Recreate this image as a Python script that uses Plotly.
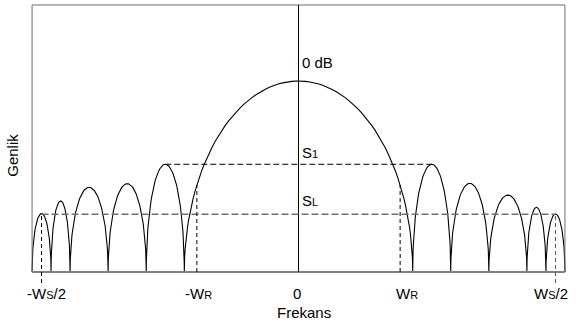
"""
Window spectrum sketch: main lobe, side lobes, S1 / SL levels
"""

import numpy as np
import plotly.graph_objects as go

# Lobe nulls on the frequency axis (main-lobe null = 1)
nulls = [-2.333, -2.167, -2.0, -1.667, -1.333, -1.0,
         1.0, 1.333, 1.667, 2.0, 2.167, 2.333]
# Peak amplitude of each lobe between two nulls (main lobe = 1)
peaks = [0.306, 0.372, 0.443, 0.462, 0.564, 1.0,
         0.564, 0.464, 0.403, 0.339, 0.304]

ws_half = 2.25      # Ws/2
wr = 0.89           # WR
s1_level = 0.564    # first side lobe level
sl_level = 0.302    # last side lobe level
top = 1.398

FONT = "Liberation Sans, Arial, sans-serif"
SUB = "<span style='font-size:11px'>{}</span>"


def lobe_curve(nulls, peaks, n=80):
    """half-ellipse arcs between consecutive nulls"""
    xs, ys = [], []
    t = np.linspace(0, np.pi, n)
    for a, b, h in zip(nulls[:-1], nulls[1:], peaks):
        c, r = (a + b) / 2, (b - a) / 2
        xs.extend(c - r * np.cos(t))
        ys.extend(h * np.sin(t))
    return xs, ys


def main_lobe_height(x):
    i = peaks.index(max(peaks))
    a, b = nulls[i], nulls[i + 1]
    c, r = (a + b) / 2, (b - a) / 2
    return peaks[i] * np.sqrt(1 - ((x - c) / r) ** 2)


xs, ys = lobe_curve(nulls, peaks)

fig = go.Figure()
fig.add_trace(go.Scatter(x=xs, y=ys, mode="lines",
                         line=dict(color="black", width=1.1),
                         hoverinfo="skip", showlegend=False))

ybot = -0.0576
s1_x = (nulls[4] + nulls[5]) / 2
shapes = [
    # frame
    dict(type="line", x0=nulls[0], x1=nulls[0], y0=0, y1=top,
         line=dict(color="#6e6e6e", width=1)),
    dict(type="line", x0=nulls[-1], x1=nulls[-1], y0=0, y1=top,
         line=dict(color="#6e6e6e", width=1)),
    dict(type="line", x0=nulls[0], x1=nulls[-1], y0=top, y1=top,
         line=dict(color="#6e6e6e", width=1)),
    dict(type="line", x0=nulls[0], x1=nulls[-1], y0=0, y1=0,
         line=dict(color="#808080", width=2)),
    # zero frequency line
    dict(type="line", x0=0, x1=0, y0=0, y1=top,
         line=dict(color="black", width=1)),
    # S1 and SL levels
    dict(type="line", x0=s1_x, x1=-s1_x, y0=s1_level, y1=s1_level,
         line=dict(color="black", width=1, dash="6px,3px")),
    dict(type="line", x0=-ws_half, x1=ws_half, y0=sl_level, y1=sl_level,
         line=dict(color="#707070", width=1.6, dash="7px,3px")),
    # Ws/2 and WR markers
    dict(type="line", x0=-ws_half, x1=-ws_half, y0=ybot, y1=sl_level,
         line=dict(color="black", width=1, dash="4px,3px")),
    dict(type="line", x0=ws_half, x1=ws_half, y0=ybot, y1=sl_level,
         line=dict(color="#555", width=1, dash="4px,3px")),
    dict(type="line", x0=-wr, x1=-wr, y0=0, y1=main_lobe_height(-wr),
         line=dict(color="black", width=1, dash="4px,3px")),
    dict(type="line", x0=wr, x1=wr, y0=0, y1=main_lobe_height(wr),
         line=dict(color="black", width=1, dash="4px,3px")),
]

tick_pos = [-ws_half, -wr, 0, wr, ws_half]
tick_text = ["-W" + SUB.format("S") + "/2", "-W" + SUB.format("R"), "0",
             "W" + SUB.format("R"), "W" + SUB.format("S") + "/2"]
tick_shift = [5, 2, -2, 7, -4]

annotations = []
for x, t, dx in zip(tick_pos, tick_text, tick_shift):
    annotations.append(dict(x=x, y=-0.037, yref="paper", text=t,
                            xanchor="center", yanchor="middle",
                            showarrow=False, xshift=dx, font=dict(size=15)))

annotations += [
    dict(x=0.05, y=-0.106, yref="paper", text="Frekans", showarrow=False,
         xanchor="center", yanchor="middle", font=dict(size=15)),
    dict(x=-0.036, y=0.457, xref="paper", yref="paper", text="Genlik",
         xanchor="center", yanchor="middle",
         showarrow=False, textangle=-90, font=dict(size=15)),
    dict(x=0, y=1.096, text="0 dB", showarrow=False, xanchor="left",
         xshift=1, font=dict(size=15)),
    dict(x=0, y=0.626, text="S" + SUB.format("1"), showarrow=False,
         xanchor="left", xshift=1, font=dict(size=15)),
    dict(x=0, y=0.372, text="S" + SUB.format("L"), showarrow=False,
         xanchor="left", xshift=1, font=dict(size=15)),
]

fig.update_layout(
    width=576, height=327,
    margin=dict(l=31, r=10, t=3, b=44),
    paper_bgcolor="white", plot_bgcolor="white",
    font=dict(family=FONT, size=15, color="black"),
    xaxis=dict(range=[-2.3424, 2.3424], visible=False, fixedrange=True),
    yaxis=dict(range=[ybot, 1.4084], visible=False, fixedrange=True),
    shapes=shapes,
    annotations=annotations,
    showlegend=False,
)

fig.write_html("out.html", config={"displayModeBar": False},
               post_script="document.body.style.margin='0';")
